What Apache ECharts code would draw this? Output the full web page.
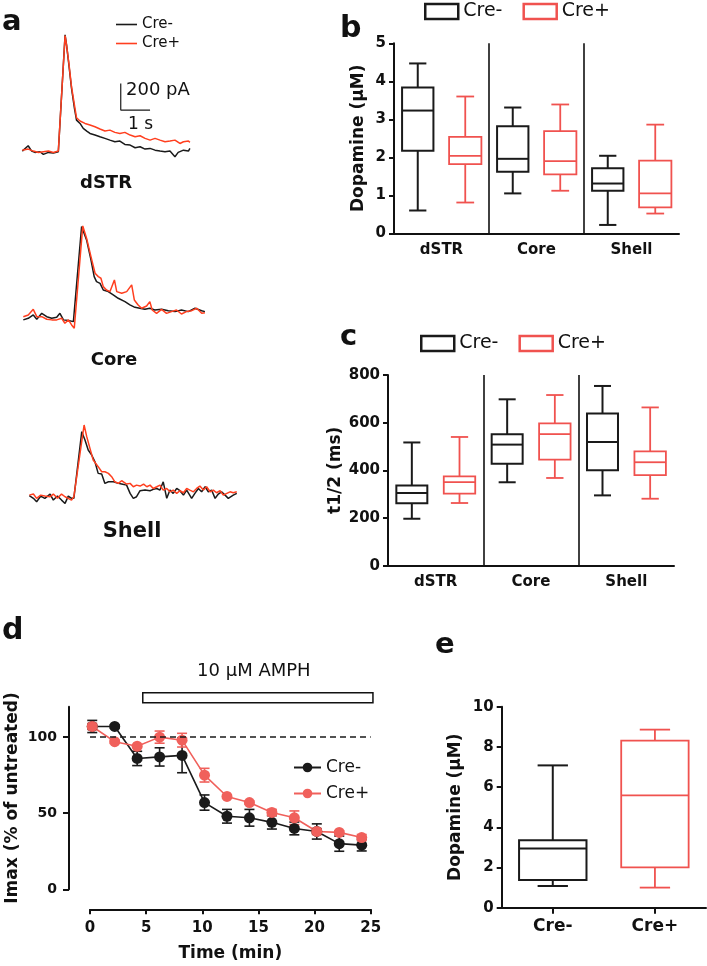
<!DOCTYPE html>
<html><head><meta charset="utf-8">
<script src="https://cdn.jsdelivr.net/npm/echarts@6/dist/echarts.min.js"></script>
<style>html,body{margin:0;padding:0;background:#fff}#c{width:707px;height:966px}</style>
</head><body><div id="c"></div>
<script>
// ---------- Panel a: example traces [time (s), current (pA)] ----------
const dstrCreMinus = [[0,5],[0.2,45],[0.32,5],[0.43,-5],[0.6,0],[0.72,-20],[0.89,-5],[1.06,-10],[1.23,0],[1.26,-12],[1.46,875],[1.51,800],[1.59,650],[1.68,475],[1.78,325],[1.85,237],[1.97,212],[2.08,175],[2.2,155],[2.31,137],[2.48,125],[2.65,112],[2.82,100],[2.99,87],[3.16,75],[3.33,80],[3.5,55],[3.68,50],[3.85,30],[4.02,37],[4.19,20],[4.36,25],[4.53,12],[4.7,5],[4.87,0],[5.04,5],[5.21,-37],[5.32,-5],[5.5,12],[5.67,5],[5.72,25]];
const dstrCrePlus = [[0,12],[0.2,20],[0.38,5],[0.55,-5],[0.72,0],[0.89,5],[1.06,-5],[1.23,5],[1.26,0],[1.46,870],[1.51,800],[1.59,662],[1.68,487],[1.78,350],[1.85,255],[1.97,230],[2.14,212],[2.31,200],[2.48,187],[2.65,170],[2.82,155],[2.99,162],[3.16,145],[3.33,137],[3.5,145],[3.68,125],[3.85,112],[4.02,120],[4.19,100],[4.36,87],[4.53,100],[4.7,87],[4.87,75],[5.04,80],[5.21,87],[5.38,62],[5.5,75],[5.67,80],[5.72,70]];
const coreCreMinus = [[0,-12],[0.17,0],[0.34,25],[0.46,-7],[0.63,37],[0.8,12],[0.97,0],[1.14,7],[1.25,37],[1.37,-12],[1.54,-17],[1.71,-25],[1.74,-25],[1.99,687],[2.16,587],[2.31,437],[2.42,312],[2.5,275],[2.62,262],[2.73,212],[2.9,200],[3.07,175],[3.24,150],[3.47,125],[3.64,100],[3.81,82],[3.98,75],[4.15,67],[4.32,75],[4.49,62],[4.72,67],[4.95,57],[5.18,50],[5.4,62],[5.63,50],[5.86,75],[6.09,57],[6.2,50]];
const coreCrePlus = [[0,12],[0.17,25],[0.34,67],[0.46,12],[0.63,12],[0.8,-7],[0.97,-12],[1.14,-12],[1.31,0],[1.42,-37],[1.54,-12],[1.65,-50],[1.74,-75],[2.03,692],[2.16,600],[2.31,462],[2.45,337],[2.56,312],[2.65,300],[2.73,237],[2.84,212],[2.96,200],[3.11,287],[3.19,200],[3.36,187],[3.53,200],[3.7,250],[3.79,137],[3.92,100],[4.04,75],[4.21,92],[4.32,125],[4.4,62],[4.55,37],[4.72,67],[4.89,37],[5.06,50],[5.23,62],[5.4,32],[5.57,50],[5.75,57],[5.92,75],[6.09,37],[6.2,42]];
const shellCreMinus = [[0,8],[0.14,-12],[0.25,-37],[0.39,5],[0.53,-12],[0.71,20],[0.82,-25],[0.96,5],[1.1,-25],[1.22,-50],[1.33,5],[1.44,-12],[1.52,-12],[1.79,487],[1.9,425],[2.01,350],[2.13,312],[2.24,262],[2.35,175],[2.47,170],[2.58,100],[2.7,112],[2.87,112],[3.04,100],[3.15,95],[3.32,87],[3.44,25],[3.55,-12],[3.66,0],[3.78,45],[3.95,50],[4.12,45],[4.23,55],[4.35,62],[4.46,50],[4.57,112],[4.69,-12],[4.8,50],[4.91,25],[5.03,62],[5.14,45],[5.26,12],[5.37,50],[5.54,-12],[5.65,25],[5.77,62],[5.88,37],[6.0,75],[6.11,37],[6.22,50],[6.34,-12],[6.45,20],[6.56,37],[6.68,12],[6.79,-12],[6.96,12],[7.08,25]];
const shellCrePlus = [[0,12],[0.14,20],[0.25,-12],[0.39,12],[0.53,5],[0.71,0],[0.82,20],[0.96,-12],[1.1,20],[1.22,0],[1.33,-12],[1.44,-25],[1.52,0],[1.87,537],[1.96,450],[2.07,362],[2.18,275],[2.35,225],[2.47,187],[2.58,187],[2.7,175],[2.81,150],[2.92,112],[3.04,100],[3.15,120],[3.32,95],[3.44,100],[3.55,75],[3.66,87],[3.78,80],[3.9,95],[4.01,75],[4.12,87],[4.23,62],[4.35,75],[4.46,87],[4.57,50],[4.69,62],[4.8,37],[4.91,50],[5.03,25],[5.14,45],[5.26,30],[5.37,62],[5.48,50],[5.6,37],[5.71,62],[5.82,80],[5.94,50],[6.05,75],[6.17,37],[6.28,50],[6.39,30],[6.51,45],[6.62,12],[6.74,25],[6.85,37],[6.96,30],[7.08,37]];
const scaleBarPA = 200;   // vertical scale bar (pA)
const scaleBarS = 1;      // horizontal scale bar (s)

// ---------- Panels b, c: [min, Q1, median, Q3, max] ----------
const regions = ['dSTR', 'Core', 'Shell'];
const dopCreMinus = [[0.60,2.17,3.23,3.84,4.47],[1.05,1.62,1.96,2.82,3.31],[0.22,1.12,1.31,1.71,2.04]];
const dopCrePlus  = [[0.81,1.82,2.04,2.54,3.60],[1.12,1.55,1.90,2.69,3.39],[0.52,0.68,1.05,1.91,2.86]];
const t12CreMinus = [[197,262,305,336,517],[350,428,508,551,698],[295,400,519,638,754]];
const t12CrePlus  = [[263,302,351,375,540],[368,445,552,597,716],[281,380,434,480,664]];

// ---------- Panel d: time course ----------
const timeMin       = [0.2,2.2,4.2,6.2,8.2,10.2,12.2,14.2,16.2,18.2,20.2,22.2,24.2];
const imaxCreMinus  = [107,107,86,87,88,57,48,47,44,40,38,30,29];
const semCreMinus   = [4,1,4.7,6,11.4,5,4.5,5.5,4.4,4.2,5,5,3.8];
const imaxCrePlus   = [107,97,94,100,98,75,61,57,50.5,47,38,37.4,34];
const semCrePlus    = [2,1,1,4,4.5,4.5,1,1,2,4.5,2,1,2];
const amphStart = 4.7, amphEnd = 25.2, baselinePct = 100;

// ---------- Panel e ----------
const groupsE = ['Cre-', 'Cre+'];
const ampDopamine = [[1.08,1.38,2.94,3.35,7.08],[1.0,2.01,5.59,8.31,8.86]];

// ---------- styling ----------
const FONT = 'DejaVu Sans';
const INK = '#111';
const BLACK = '#1a1a1a';
const TRACE_RED = '#ff3f1f';
const BOX_RED = '#f0524f';
const D_RED = '#f0605b';

function boxRender(color, lw, widthFrac, capFrac) {
  return function (params, api) {
    const x = api.value(0);
    const p = [1,2,3,4,5].map(i => api.coord([x, api.value(i)]));
    const bw = api.size([1, 0])[0] * widthFrac;
    const cap = bw * capFrac;
    const cx = p[0][0];
    const st = { stroke: color, lineWidth: lw, fill: null };
    return { type: 'group', children: [
      { type: 'line', shape: { x1: cx, y1: p[0][1], x2: cx, y2: p[1][1] }, style: st },
      { type: 'line', shape: { x1: cx, y1: p[3][1], x2: cx, y2: p[4][1] }, style: st },
      { type: 'line', shape: { x1: cx - cap/2, y1: p[0][1], x2: cx + cap/2, y2: p[0][1] }, style: st },
      { type: 'line', shape: { x1: cx - cap/2, y1: p[4][1], x2: cx + cap/2, y2: p[4][1] }, style: st },
      { type: 'rect', shape: { x: cx - bw/2, y: p[3][1], width: bw, height: p[1][1] - p[3][1] }, style: { stroke: color, lineWidth: lw, fill: '#fff' } },
      { type: 'line', shape: { x1: cx - bw/2, y1: p[2][1], x2: cx + bw/2, y2: p[2][1] }, style: st }
    ]};
  };
}
function errRender(color) {
  return function (params, api) {
    const x = api.value(0), y = api.value(1), e = api.value(2);
    const t = api.coord([x, y + e]), b = api.coord([x, y - e]);
    const st = { stroke: color, lineWidth: 1.6, fill: null };
    return { type: 'group', children: [
      { type: 'line', shape: { x1: t[0], y1: t[1], x2: b[0], y2: b[1] }, style: st },
      { type: 'line', shape: { x1: t[0]-5, y1: t[1], x2: t[0]+5, y2: t[1] }, style: st },
      { type: 'line', shape: { x1: b[0]-5, y1: b[1], x2: b[0]+5, y2: b[1] }, style: st }
    ]};
  };
}
const boxData = (arr, offset) => arr.map((v, i) => [2*i + offset].concat(v));
const sixCats = [];
regions.forEach(r => { sixCats.push(r + '-'); sixCats.push(r + '+'); });

function traceAxes(gi, xmax, ymin, ymax) {
  return [
    { gridIndex: gi, type: 'value', min: 0, max: xmax, show: false },
    { gridIndex: gi, type: 'value', min: ymin, max: ymax, show: false }
  ];
}
function yBox(gi, min, max, interval, name, gap) {
  return { gridIndex: gi, type: 'value', min, max, interval, name, nameLocation: 'middle', nameGap: gap,
    nameTextStyle: { fontFamily: FONT, fontWeight: 'bold', fontSize: 17, color: INK },
    axisLine: { show: true, onZero: false, lineStyle: { color: INK, width: 2 } },
    axisTick: { show: true, length: 5, lineStyle: { color: INK, width: 2 } },
    axisLabel: { fontFamily: FONT, fontWeight: 'bold', fontSize: 15, color: INK, margin: 8 },
    splitLine: { show: false } };
}
function xBoxLine(gi) {
  return { gridIndex: gi, type: 'category', data: sixCats, position: 'bottom',
    axisLine: { show: true, onZero: false, lineStyle: { color: INK, width: 2 } },
    axisTick: { show: false }, axisLabel: { show: false }, splitLine: { show: false } };
}
function xBoxLabels(gi) {
  return { gridIndex: gi, type: 'category', data: regions, position: 'bottom',
    axisLine: { show: false, onZero: false }, axisTick: { show: false },
    axisLabel: { fontFamily: FONT, fontWeight: 'bold', fontSize: 15, color: INK, margin: 9 },
    splitLine: { show: true, showMinLine: false, showMaxLine: false, lineStyle: { color: INK, width: 1.6 } } };
}

const ta0 = traceAxes(0, 6, -100, 950), ta1 = traceAxes(1, 6.5, -150, 800), ta2 = traceAxes(2, 7.2, -100, 600);
const xAxes = [ta0[0], ta1[0], ta2[0], xBoxLine(3), xBoxLabels(3), xBoxLine(4), xBoxLabels(4),
  { gridIndex: 5, type: 'value', min: 0, max: 25, interval: 5, offset: 20, name: 'Time (min)', nameLocation: 'middle', nameGap: 36,
    nameTextStyle: { fontFamily: FONT, fontWeight: 'bold', fontSize: 17, color: INK },
    axisLine: { show: true, onZero: false, lineStyle: { color: INK, width: 2 } },
    axisTick: { show: true, length: 5, lineStyle: { color: INK, width: 2 } },
    axisLabel: { fontFamily: FONT, fontWeight: 'bold', fontSize: 15, color: INK, margin: 11 },
    splitLine: { show: false } },
  { gridIndex: 6, type: 'category', data: groupsE, position: 'bottom',
    axisLine: { show: true, onZero: false, lineStyle: { color: INK, width: 2 } },
    axisTick: { show: true, alignWithLabel: true, length: 6, lineStyle: { color: INK, width: 2 } },
    axisLabel: { fontFamily: FONT, fontWeight: 'bold', fontSize: 17, color: INK, margin: 10 },
    splitLine: { show: false } }
];
const yAxes = [ta0[1], ta1[1], ta2[1],
  yBox(3, 0, 5, 1, 'Dopamine (\u03bcM)', 27),
  yBox(4, 0, 800, 200, 't1/2 (ms)', 44),
  { gridIndex: 5, type: 'value', min: 0, max: 120, offset: 21, name: 'Imax (% of untreated)', nameLocation: 'middle', nameGap: 48,
    nameTextStyle: { fontFamily: FONT, fontWeight: 'bold', fontSize: 17, color: INK },
    axisLine: { show: true, onZero: false, lineStyle: { color: INK, width: 2 } },
    axisTick: { show: true, length: 6, customValues: [0, 50, 100], lineStyle: { color: INK, width: 2 } },
    axisLabel: { fontFamily: FONT, fontWeight: 'bold', fontSize: 14, color: INK, margin: 12, customValues: [0, 50, 100] },
    splitLine: { show: false } },
  yBox(6, 0, 10, 2, 'Dopamine (\u03bcM)', 38)
];

const grids = [
  { left: 22.3, top: 24.9, width: 175.8, height: 140.2 },
  { left: 23.3, top: 211.5, width: 190.4, height: 126.8 },
  { left: 29.3, top: 416.6, width: 211, height: 93.5 },
  { left: 394, top: 43.3, right: 28, height: 190 },
  { left: 388, top: 375, right: 33, height: 190.7 },
  { left: 90, top: 706.7, width: 280.7, height: 182.6 },
  { left: 501.7, top: 706.7, right: 1, height: 201 }
];

const traceLine = (name, gi, data, color) => ({ type: 'line', name, xAxisIndex: gi, yAxisIndex: gi, data, symbol: 'none',
  lineStyle: { color, width: 1.5 }, itemStyle: { color } });

const scaleT0 = 3.36, scaleP0 = 312;
const series = [
  traceLine('aCre-', 0, dstrCreMinus, BLACK), traceLine('aCre+', 0, dstrCrePlus, TRACE_RED),
  traceLine('a2Cre-', 1, coreCreMinus, BLACK), traceLine('a2Cre+', 1, coreCrePlus, TRACE_RED),
  traceLine('a3Cre-', 2, shellCreMinus, BLACK), traceLine('a3Cre+', 2, shellCrePlus, TRACE_RED),
  { type: 'line', name: 'scale', xAxisIndex: 0, yAxisIndex: 0, symbol: 'none',
    data: [[scaleT0, scaleP0 + scaleBarPA], [scaleT0, scaleP0], [scaleT0 + scaleBarS, scaleP0]],
    lineStyle: { color: BLACK, width: 1.2 } },
  { type: 'custom', name: 'bCre-', xAxisIndex: 3, yAxisIndex: 3, data: boxData(dopCreMinus, 0), encode: { x: 0, y: [1,2,3,4,5] }, renderItem: boxRender(BLACK, 2, 0.66, 0.55), itemStyle: { color: BLACK } },
  { type: 'custom', name: 'bCre+', xAxisIndex: 3, yAxisIndex: 3, data: boxData(dopCrePlus, 1), encode: { x: 0, y: [1,2,3,4,5] }, renderItem: boxRender(BOX_RED, 1.8, 0.68, 0.55), itemStyle: { color: BOX_RED } },
  { type: 'custom', name: 'cCre-', xAxisIndex: 5, yAxisIndex: 4, data: boxData(t12CreMinus, 0), encode: { x: 0, y: [1,2,3,4,5] }, renderItem: boxRender(BLACK, 2, 0.65, 0.55), itemStyle: { color: BLACK } },
  { type: 'custom', name: 'cCre+', xAxisIndex: 5, yAxisIndex: 4, data: boxData(t12CrePlus, 1), encode: { x: 0, y: [1,2,3,4,5] }, renderItem: boxRender(BOX_RED, 1.8, 0.66, 0.55), itemStyle: { color: BOX_RED } },
  { type: 'custom', name: 'eCre-', xAxisIndex: 8, yAxisIndex: 6, data: [[0].concat(ampDopamine[0])], encode: { x: 0, y: [1,2,3,4,5] }, renderItem: boxRender(BLACK, 2, 0.66, 0.45), itemStyle: { color: BLACK } },
  { type: 'custom', name: 'eCre+', xAxisIndex: 8, yAxisIndex: 6, data: [[1].concat(ampDopamine[1])], encode: { x: 0, y: [1,2,3,4,5] }, renderItem: boxRender(BOX_RED, 1.8, 0.66, 0.45), itemStyle: { color: BOX_RED } },
  { type: 'custom', name: 'errMinus', xAxisIndex: 7, yAxisIndex: 5, data: timeMin.map((t, i) => [t, imaxCreMinus[i], semCreMinus[i]]), encode: { x: 0, y: 1 }, renderItem: errRender(BLACK) },
  { type: 'line', name: 'dCre-', xAxisIndex: 7, yAxisIndex: 5, data: timeMin.map((t, i) => [t, imaxCreMinus[i]]),
    symbol: 'circle', symbolSize: 11, lineStyle: { color: BLACK, width: 1.6 }, itemStyle: { color: BLACK },
    markLine: { silent: true, symbol: 'none', label: { show: false }, lineStyle: { color: BLACK, type: [6, 4], width: 1.5 }, data: [{ yAxis: baselinePct }] } },
  { type: 'custom', name: 'errPlus', xAxisIndex: 7, yAxisIndex: 5, data: timeMin.map((t, i) => [t, imaxCrePlus[i], semCrePlus[i]]), encode: { x: 0, y: 1 }, renderItem: errRender(D_RED) },
  { type: 'line', name: 'dCre+', xAxisIndex: 7, yAxisIndex: 5, data: timeMin.map((t, i) => [t, imaxCrePlus[i]]),
    symbol: 'circle', symbolSize: 11, lineStyle: { color: D_RED, width: 1.6 }, itemStyle: { color: D_RED } },
  { type: 'custom', name: 'amph', xAxisIndex: 7, yAxisIndex: 5, data: [[amphStart, amphEnd]], clip: false,
    renderItem: function (params, api) {
      const a = api.coord([api.value(0), 120]), b = api.coord([api.value(1), 120]);
      return { type: 'group', children: [
        { type: 'rect', shape: { x: a[0], y: a[1] - 14, width: b[0] - a[0], height: 10 }, style: { fill: '#fff', stroke: INK, lineWidth: 1.5 } },
        { type: 'text', x: (a[0] + b[0]) / 2 - 4, y: a[1] - 35, style: { text: '10 \u03bcM AMPH', font: '18px "DejaVu Sans"', fill: INK, align: 'center', verticalAlign: 'middle', textAlign: 'center', textVerticalAlign: 'middle' } }
      ]};
    } }
];

const strip = n => n.replace(/^[a-z][0-9]?/, '');
const legends = [
  { left: 116, top: 17, padding: 0, orient: 'vertical', itemGap: 4, itemWidth: 21, itemHeight: 1.6, formatter: strip, selectedMode: false,
    textStyle: { fontFamily: FONT, fontSize: 15, color: INK },
    data: [{ name: 'aCre-', icon: 'rect', itemStyle: { color: BLACK } }, { name: 'aCre+', icon: 'rect', itemStyle: { color: TRACE_RED } }] },
  { left: 424, top: 2, padding: 0, orient: 'horizontal', itemGap: 20, itemWidth: 33, itemHeight: 15, formatter: strip, selectedMode: false,
    textStyle: { fontFamily: FONT, fontSize: 19, color: INK },
    data: [{ name: 'bCre-', icon: 'rect', itemStyle: { color: '#fff', borderColor: BLACK, borderWidth: 2.5 } },
           { name: 'bCre+', icon: 'rect', itemStyle: { color: '#fff', borderColor: BOX_RED, borderWidth: 2.5 } }] },
  { left: 420, top: 334, padding: 0, orient: 'horizontal', itemGap: 20, itemWidth: 33, itemHeight: 15, formatter: strip, selectedMode: false,
    textStyle: { fontFamily: FONT, fontSize: 19, color: INK },
    data: [{ name: 'cCre-', icon: 'rect', itemStyle: { color: '#fff', borderColor: BLACK, borderWidth: 2.5 } },
           { name: 'cCre+', icon: 'rect', itemStyle: { color: '#fff', borderColor: BOX_RED, borderWidth: 2.5 } }] },
  { left: 293, top: 759, padding: 0, orient: 'vertical', itemGap: 9, itemWidth: 27, itemHeight: 12, formatter: strip, selectedMode: false,
    textStyle: { fontFamily: FONT, fontSize: 17, color: INK },
    data: ['dCre-', 'dCre+'] }
];

const txt = (text, x, y, size, bold, align) => ({ type: 'text', x, y, silent: true,
  style: { text, font: (bold ? 'bold ' : '') + size + 'px "DejaVu Sans"', fill: INK, align: align || 'left', verticalAlign: 'middle', textAlign: align || 'left', textVerticalAlign: 'middle' } });

const graphics = [
  txt('a', 2, 22, 29, true), txt('b', 340, 29, 30, true), txt('c', 340, 337, 29, true),
  txt('d', 2, 631, 30, true), txt('e', 435, 645, 29, true),
  txt('dSTR', 106, 183, 18, true, 'center'), txt('Core', 114, 360, 18, true, 'center'), txt('Shell', 132, 532, 21, true, 'center'),
  txt('200 pA', 126, 90, 18, false), txt('1 s', 128, 125, 17, false)
];

const chart = echarts.init(document.getElementById('c'), null, { renderer: 'canvas' });
chart.setOption({
  animation: false,
  backgroundColor: '#fff',
  grid: grids,
  xAxis: xAxes,
  yAxis: yAxes,
  legend: legends,
  series: series,
  graphic: graphics
});
</script>
</body></html>
